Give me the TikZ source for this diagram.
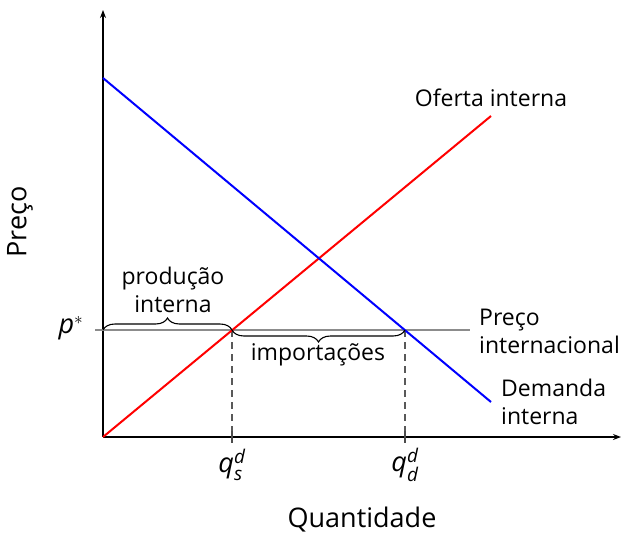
\documentclass[tikz,border=0pt]{standalone}
\usepackage{amsmath}
\usepackage{fontspec}
\setmainfont{Open Sans}
\usetikzlibrary{arrows.meta,decorations.pathreplacing}
\newcommand{\iv}[1]{\textit{#1}}
\begin{document}
\begin{tikzpicture}[x=1pt,y=-1pt,
  lbl/.style={font=\fontsize{23}{28}\selectfont, inner sep=0pt},
  mlbl/.style={font=\fontsize{27}{30}\selectfont, inner sep=0pt},
  axlbl/.style={font=\fontsize{27}{30}\selectfont, inner sep=0pt},
  axis/.style={line width=1.2pt, -{Stealth[length=8pt,width=6pt]}},
  brc/.style={decorate, decoration={brace, amplitude=12pt}, line width=1.1pt},
  dsh/.style={line width=1.1pt, draw=black!65, dash pattern=on 7pt off 5pt}]
\useasboundingbox (0,0) rectangle (624,536);
\coordinate (O) at (103,437);
\coordinate (ytop) at (103,10);
\coordinate (xend) at (621,437);
\coordinate (pl) at (95,330);
\coordinate (pr) at (470,330);
\coordinate (qs) at (232,330);
\coordinate (qd) at (405,330);
\coordinate (qsb) at (232,437);
\coordinate (qdb) at (405,437);
\coordinate (s1) at (103,437);
\coordinate (s2) at (491,116);
\coordinate (d1) at (103,78);
\coordinate (d2) at (491,402);
% axes
\draw[axis] (O) -- (ytop);
\draw[axis] (O) -- (xend);
% dashed
\draw[dsh] (qs) -- (qsb);
\draw[dsh] (qd) -- (qdb);
\draw[line width=1.1pt, black!70] (232,431) -- (232,443);
\draw[line width=1.1pt, black!70] (405,431) -- (405,443);
% world price
\draw[line width=2.4pt, black!45] (pl) -- (pr);
% curves
\draw[line width=2pt, red] (s1) -- (s2);
\draw[line width=2pt, blue] (d1) -- (d2);
% braces
\draw[brc] (O |- qs) -- (qs);
\draw[brc] (qd) -- (qs);
% labels
\node[lbl, align=center] (prod) at (173,290) {produção\\interna};
\node[lbl] (imp) at (318,355) {importações};
\node[lbl] (of) at (491,98) {Oferta interna};
\node[lbl, anchor=west, align=left] (pi) at (479,331) {Preço\\internacional};
\node[lbl, anchor=west, align=left] (dem) at (501,402) {Demanda\\interna};
\node[mlbl] (pstar) at (71,328) {$\iv{p}^{*}$};
\node[mlbl] (qsl) at (232,465) {$\iv{q}_{\iv{s}}^{\iv{d}}$};
\node[mlbl] (qdl) at (405,465) {$\iv{q}_{\iv{d}}^{\iv{d}}$};
\node[axlbl] (xl) at (362,520) {Quantidade};
\node[axlbl, rotate=90] (yl) at (20,222) {Preço};
\end{tikzpicture}
\end{document}
